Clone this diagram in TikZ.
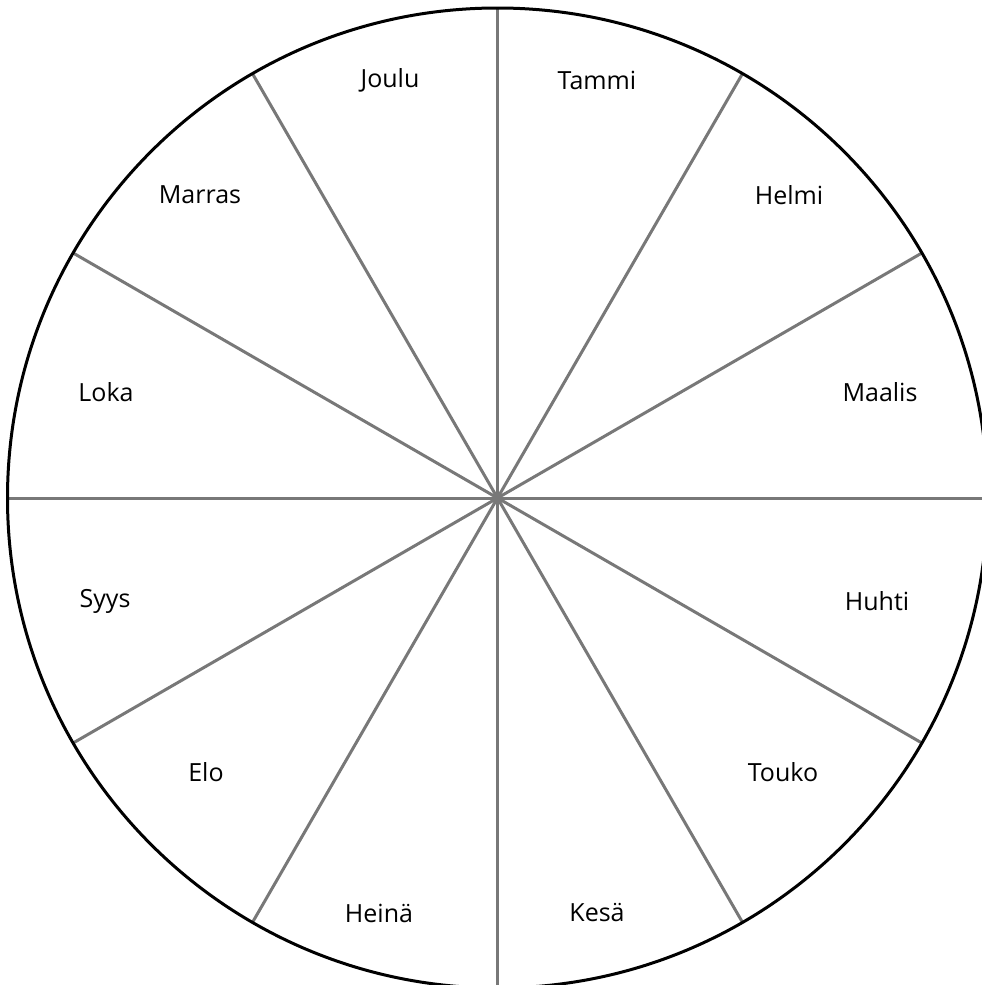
\documentclass[tikz,border=0pt]{standalone}
\usepackage{fontspec}
\setmainfont{Open Sans}
\begin{document}
\begin{tikzpicture}[x=1pt,y=-1pt,
  spoke/.style={draw=black!53, line width=3pt},
  rim/.style={draw=black, line width=3pt},
  month/.style={font=\fontsize{25}{30}\selectfont, text=black, inner sep=0pt}]
\useasboundingbox (0,0) rectangle (982,985);
\clip (0,0) rectangle (982,985);
\coordinate (c) at (497.5,498);
\foreach \a in {0,30,...,330} {
  \draw[spoke] (c) -- ++(\a:490 and -490);
}
\draw[rim] (c) circle[radius=490];
\node[month] (joulu) at (390,80) {Joulu};
\node[month] (tammi) at (597,80) {Tammi};
\node[month] (helmi) at (789,195) {Helmi};
\node[month] (maalis) at (880,392) {Maalis};
\node[month] (huhti) at (877,601) {Huhti};
\node[month] (touko) at (783,772) {Touko};
\node[month] (kesa) at (597,913) {Kesä};
\node[month] (heina) at (379,913) {Heinä};
\node[month] (elo) at (206,772) {Elo};
\node[month] (syys) at (105,601) {Syys};
\node[month] (loka) at (106,392) {Loka};
\node[month] (marras) at (200,195) {Marras};
\end{tikzpicture}
\end{document}
